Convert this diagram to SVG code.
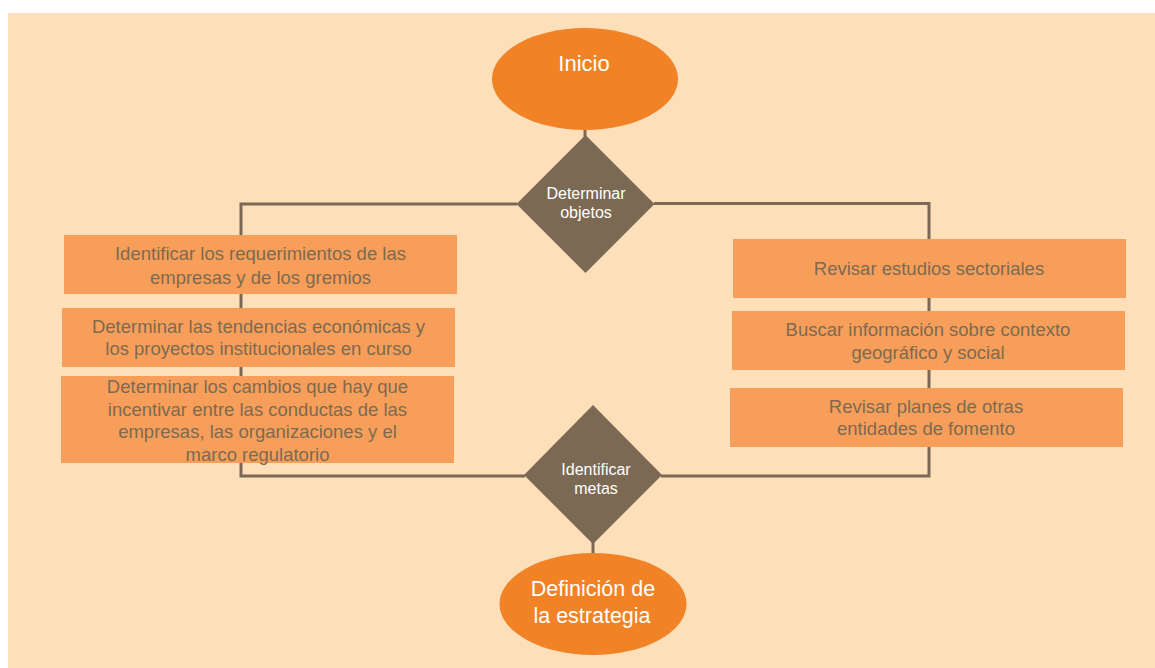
<svg xmlns="http://www.w3.org/2000/svg" width="1155" height="668" viewBox="0 0 1155 668">
<style>
.bg{fill:#FDDFB9}
.term{fill:#F28226}
.dec{fill:#7B6954}
.box{fill:#F79F5A}
.wt{fill:#FFFFFF;font-family:"Liberation Sans",Arial,sans-serif;text-anchor:middle}
.bt{fill:#7D6A50;font-family:"Liberation Sans",Arial,sans-serif;font-size:18.5px;text-anchor:middle}
.ln{stroke:#7B6954;stroke-width:3;fill:none}
</style>
<rect class="bg" x="8" y="13" width="1147" height="655"/>
<g id="connectors">
<line class="ln" x1="585" y1="128" x2="585" y2="138"/>
<polyline class="ln" points="517,204 241,204 241,476 525,476"/>
<polyline class="ln" points="654,203.5 929,203.5 929,476 661,476"/>
<line class="ln" x1="593" y1="542" x2="593" y2="554"/>
</g>
<g id="inicio">
<ellipse class="term" cx="585" cy="79" rx="93" ry="51"/>
<text class="wt" x="584" y="71" font-size="22">Inicio</text>
</g>
<g id="determinar-objetos">
<polygon class="dec" points="585.5,135 654.5,204 585.5,273 516.5,204"/>
<text class="wt" x="586" y="199" font-size="16">Determinar</text>
<text class="wt" x="586" y="218" font-size="16">objetos</text>
</g>
<g id="req">
<rect class="box" x="64" y="235" width="393" height="59"/>
<text class="bt" x="260.5" y="259.5">Identificar los requerimientos de las</text>
<text class="bt" x="260.5" y="283.5">empresas y de los gremios</text>
</g>
<g id="tendencias">
<rect class="box" x="62" y="308" width="393" height="59"/>
<text class="bt" x="258.5" y="333">Determinar las tendencias económicas y</text>
<text class="bt" x="258.5" y="355">los proyectos institucionales en curso</text>
</g>
<g id="cambios">
<rect class="box" x="61" y="376" width="393" height="87"/>
<text class="bt" x="257.5" y="393">Determinar los cambios que hay que</text>
<text class="bt" x="257.5" y="415.5">incentivar entre las conductas de las</text>
<text class="bt" x="257.5" y="438">empresas, las organizaciones y el</text>
<text class="bt" x="257.5" y="460.5">marco regulatorio</text>
</g>
<g id="estudios">
<rect class="box" x="733" y="239" width="393" height="59"/>
<text class="bt" x="929" y="274.5">Revisar estudios sectoriales</text>
</g>
<g id="contexto">
<rect class="box" x="732" y="311" width="393" height="59"/>
<text class="bt" x="928" y="336">Buscar información sobre contexto</text>
<text class="bt" x="928" y="359">geográfico y social</text>
</g>
<g id="planes">
<rect class="box" x="730" y="388" width="393" height="59"/>
<text class="bt" x="926" y="413">Revisar planes de otras</text>
<text class="bt" x="926" y="435">entidades de fomento</text>
</g>
<g id="identificar-metas">
<polygon class="dec" points="593,405 662,475 593,544 524,475"/>
<text class="wt" x="596" y="474.5" font-size="16">Identificar</text>
<text class="wt" x="596" y="493.5" font-size="16">metas</text>
</g>
<g id="definicion">
<ellipse class="term" cx="593" cy="604" rx="93.5" ry="51"/>
<text class="wt" x="593" y="596" font-size="21.5">Definición de</text>
<text class="wt" x="592" y="623" font-size="21.5">la estrategia</text>
</g>
</svg>
